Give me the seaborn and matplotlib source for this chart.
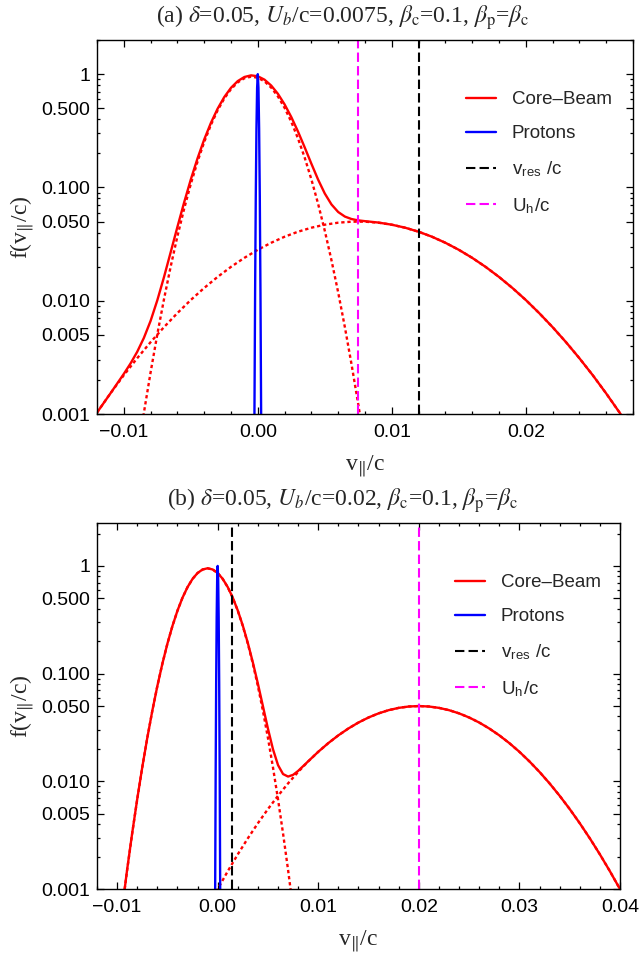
import matplotlib
matplotlib.use("Agg")
import matplotlib.pyplot as plt
import seaborn as sns
import pandas as pd
from matplotlib.ticker import FixedLocator, NullFormatter, LogLocator, MultipleLocator

# ---------------- data: panel (a) ----------------
total_xa = [-0.012, -0.011, -0.010, -0.0095, -0.009, -0.0085, -0.008, -0.0075, -0.007, -0.0065,
            -0.006, -0.0055, -0.005, -0.0045, -0.004, -0.0035, -0.003, -0.0025, -0.002, -0.0015,
            -0.001, -0.0005, 0.000, 0.0005, 0.001, 0.0015, 0.002, 0.0025, 0.003, 0.0035,
            0.004, 0.0045, 0.005, 0.0055, 0.006, 0.0065, 0.007, 0.0075, 0.008, 0.0085,
            0.009, 0.010, 0.011, 0.012, 0.013, 0.014, 0.015, 0.016, 0.017, 0.018,
            0.019, 0.020, 0.021, 0.022, 0.023, 0.024, 0.025, 0.026, 0.027, 0.028]
total_a = [0.00103, 0.00152, 0.00226, 0.00279, 0.00354, 0.00470, 0.00664, 0.01008, 0.01616, 0.02682,
           0.04475, 0.07352, 0.1174, 0.1801, 0.2647, 0.3709, 0.4948, 0.6280, 0.7574, 0.8677,
           0.9439, 0.9757, 0.9582, 0.8941, 0.7936, 0.6709, 0.5412, 0.4183, 0.3115, 0.2259,
           0.1619, 0.1174, 0.0884, 0.07075, 0.0607, 0.05533, 0.0526, 0.05122, 0.0504, 0.04969,
           0.0490, 0.04691, 0.04412, 0.04067, 0.03673, 0.03249, 0.02817, 0.02392, 0.01991, 0.01623,
           0.01297, 0.01016, 0.00778, 0.00585, 0.00431, 0.00311, 0.00220, 0.00152, 0.00103, 0.00069]
beam_xa = [-0.012, -0.011, -0.010, -0.009, -0.008, -0.007, -0.006, -0.005, -0.004, -0.003,
           -0.002, -0.001, 0.000, 0.001, 0.002, 0.003, 0.004, 0.005, 0.006, 0.007,
           0.008, 0.009, 0.010, 0.011, 0.012, 0.013, 0.014, 0.015, 0.016, 0.017,
           0.018, 0.019, 0.020, 0.021, 0.022, 0.023, 0.024, 0.025, 0.026, 0.027, 0.028]
beam_a = [0.00103, 0.00152, 0.00220, 0.00311, 0.00431, 0.00585, 0.00778, 0.01016, 0.01297, 0.01623,
          0.01991, 0.02392, 0.02817, 0.03249, 0.03673, 0.04067, 0.04412, 0.04691, 0.04887, 0.04987,
          0.04987, 0.04887, 0.04691, 0.04412, 0.04067, 0.03673, 0.03249, 0.02817, 0.02392, 0.01991,
          0.01623, 0.01297, 0.01016, 0.00778, 0.00585, 0.00431, 0.00311, 0.00220, 0.00152, 0.00103, 0.00069]
core_xa = [-0.0095, -0.009, -0.0085, -0.008, -0.0075, -0.007, -0.0065, -0.006, -0.0055, -0.005,
           -0.0045, -0.004, -0.0035, -0.003, -0.0025, -0.002, -0.0015, -0.001, -0.0005, 0.000,
           0.0005, 0.001, 0.0015, 0.002, 0.0025, 0.003, 0.0035, 0.004, 0.0045, 0.005,
           0.0055, 0.006, 0.0065, 0.007, 0.0075, 0.008, 0.0085]
core_a = [0.000169, 0.000428, 0.001026, 0.00233, 0.00504, 0.01031, 0.02005, 0.03697, 0.0646, 0.1072,
          0.1686, 0.2517, 0.3563, 0.4786, 0.610, 0.7375, 0.8458, 0.920, 0.9497, 0.930,
          0.8638, 0.7611, 0.6363, 0.5045, 0.3796, 0.2708, 0.1834, 0.1178, 0.0718, 0.0415,
          0.02275, 0.01184, 0.00584, 0.00273, 0.001215, 0.000512, 0.000204]

# ---------------- data: panel (b) ----------------
total_xb = [-0.012, -0.011, -0.010, -0.0095, -0.009, -0.0085, -0.008, -0.0075, -0.007, -0.0065,
            -0.006, -0.0055, -0.005, -0.0045, -0.004, -0.0035, -0.003, -0.0025, -0.002, -0.0015,
            -0.001, -0.0005, 0.000, 0.0005, 0.001, 0.0015, 0.002, 0.0025, 0.003, 0.0035,
            0.004, 0.0045, 0.005, 0.0055, 0.006, 0.0065, 0.007, 0.0075, 0.008, 0.009,
            0.010, 0.011, 0.012, 0.013, 0.014, 0.015, 0.016, 0.017, 0.018, 0.019,
            0.020, 0.021, 0.022, 0.023, 0.024, 0.025, 0.026, 0.027, 0.028, 0.029,
            0.030, 0.031, 0.032, 0.033, 0.034, 0.035, 0.036, 0.037, 0.038, 0.039, 0.040]
total_b = [0.000005, 0.000042, 0.000279, 0.000654, 0.00152, 0.00330, 0.00683, 0.01347, 0.02528, 0.04510,
           0.07656, 0.1235, 0.1895, 0.2765, 0.3837, 0.5063, 0.6350, 0.7576, 0.8592, 0.9268,
           0.9507, 0.9271, 0.8599, 0.7584, 0.6363, 0.5079, 0.3856, 0.2789, 0.1924, 0.1269,
           0.0806, 0.04982, 0.03077, 0.01983, 0.01415, 0.01168, 0.01107, 0.01149, 0.01249, 0.01534,
           0.01880, 0.02263, 0.02673, 0.03095, 0.03516, 0.03915, 0.04275, 0.04579, 0.04808, 0.04951,
           0.05000, 0.04951, 0.04808, 0.04579, 0.04275, 0.03915, 0.03516, 0.03095, 0.02673, 0.02263,
           0.01880, 0.01530, 0.01222, 0.009567, 0.007344, 0.00553, 0.004083, 0.002957, 0.00210, 0.001462, 0.000999]
beam_xb = [-0.001, 0.000, 0.001, 0.002, 0.003, 0.004, 0.005, 0.006, 0.007, 0.008,
           0.009, 0.010, 0.011, 0.012, 0.013, 0.014, 0.015, 0.016, 0.017, 0.018,
           0.019, 0.020, 0.021, 0.022, 0.023, 0.024, 0.025, 0.026, 0.027, 0.028,
           0.029, 0.030, 0.031, 0.032, 0.033, 0.034, 0.035, 0.036, 0.037, 0.038, 0.039, 0.040]
beam_b = [0.000668, 0.000999, 0.001462, 0.00210, 0.002957, 0.004083, 0.00553, 0.007344, 0.009567, 0.01222,
          0.01530, 0.01880, 0.02263, 0.02673, 0.03095, 0.03516, 0.03915, 0.04275, 0.04579, 0.04808,
          0.04951, 0.05000, 0.04951, 0.04808, 0.04579, 0.04275, 0.03915, 0.03516, 0.03095, 0.02673,
          0.02263, 0.01880, 0.01530, 0.01222, 0.009567, 0.007344, 0.00553, 0.004083, 0.002957, 0.00210,
          0.001462, 0.000999]
core_xb = [-0.010, -0.0095, -0.009, -0.0085, -0.008, -0.0075, -0.007, -0.0065, -0.006, -0.0055,
           -0.005, -0.0045, -0.004, -0.0035, -0.003, -0.0025, -0.002, -0.0015, -0.001, -0.0005,
           0.000, 0.0005, 0.001, 0.0015, 0.002, 0.0025, 0.003, 0.0035, 0.004, 0.0045,
           0.005, 0.0055, 0.006, 0.0065, 0.007, 0.0075, 0.008]
core_b = [0.000271, 0.000654, 0.001503, 0.003279, 0.00681, 0.01344, 0.02524, 0.04505, 0.0765, 0.1234,
          0.1894, 0.2764, 0.3835, 0.5061, 0.6348, 0.7572, 0.8589, 0.9263, 0.95, 0.9263,
          0.8589, 0.7572, 0.6348, 0.5061, 0.3835, 0.2764, 0.1894, 0.1234, 0.0765, 0.04505,
          0.02524, 0.01344, 0.00681, 0.003279, 0.001503, 0.000654, 0.000271]

# ---------------- protons (same in both panels) ----------------
xp = [-0.0003, -0.00025, -0.0002, -0.00015, -0.0001, -0.00005, 0.0,
      0.00005, 0.0001, 0.00015, 0.0002, 0.00025, 0.0003]
protons = [0.000047, 0.00098, 0.0119, 0.0827, 0.330, 0.758, 1.0,
           0.758, 0.330, 0.0827, 0.0119, 0.00098, 0.000047]

# vertical markers
v_res = [0.012, 0.0014]
u_h = [0.0075, 0.02]

titles = [r"(a) $\delta$=0.05, $U_b$/c=0.0075, $\beta_{\mathrm{c}}$=0.1, $\beta_{\mathrm{p}}$=$\beta_{\mathrm{c}}$",
          r"(b) $\delta$=0.05, $U_b$/c=0.02, $\beta_{\mathrm{c}}$=0.1, $\beta_{\mathrm{p}}$=$\beta_{\mathrm{c}}$"]
xticks_a = [-0.01, 0.0, 0.01, 0.02]
xticklabels_a = ["\u22120.01", "0.00", "0.01", "0.02"]
xticks_b = [-0.01, 0.0, 0.01, 0.02, 0.03, 0.04]
xticklabels_b = ["\u22120.01", "0.00", "0.01", "0.02", "0.03", "0.04"]
yticks = [0.001, 0.005, 0.01, 0.05, 0.1, 0.5, 1]
yticklabels = ["0.001", "0.005", "0.010", "0.050", "0.100", "0.500", "1"]
legend_labels = ["Core\u2013Beam", "Protons", r"v$_{\mathregular{res}}$ /c", r"U$_{\mathregular{h}}$/c"]

# ---------------- style ----------------
sns.set_theme(style="white")
plt.rcParams['font.family'] = ['Liberation Sans', 'DejaVu Sans']
plt.rcParams['mathtext.fontset'] = 'stix'
SERIF = ['Liberation Serif', 'DejaVu Serif']

fig = plt.figure(figsize=(6.41, 9.58), dpi=100)
axa = fig.add_axes([0.1513, 0.5678, 0.8362, 0.3904])
axb = fig.add_axes([0.1513, 0.0720, 0.8159, 0.3820])

RED, BLUE, MAG = "#ff0000", "#0000ff", "#ff00ff"
LW = 1.7

def draw(ax, tx, tot, cx, core, bx, beam, vres, uh, xlim, ylim, xt, xtl, leg_anchor):
    df_tot = pd.DataFrame({"x": tx, "y": tot})
    df_core = pd.DataFrame({"x": cx, "y": core})
    df_beam = pd.DataFrame({"x": bx, "y": beam})
    df_p = pd.DataFrame({"x": xp, "y": protons})
    sns.lineplot(data=df_core, x="x", y="y", ax=ax, color=RED, lw=LW, estimator=None, sort=False)
    sns.lineplot(data=df_beam, x="x", y="y", ax=ax, color=RED, lw=LW, estimator=None, sort=False)
    for ln in ax.get_lines():
        ln.set_dashes((1.4, 1.2))
    sns.lineplot(data=df_tot, x="x", y="y", ax=ax, color=RED, lw=LW, estimator=None, sort=False,
                 label=legend_labels[0])
    sns.lineplot(data=df_p, x="x", y="y", ax=ax, color=BLUE, lw=LW, estimator=None, sort=False,
                 label=legend_labels[1])
    ax.axvline(vres, color="black", lw=1.5, dashes=(4.5, 2.0), label=legend_labels[2])
    ax.axvline(uh, color=MAG, lw=1.5, dashes=(4.5, 2.0), label=legend_labels[3])
    ax.set_yscale("log")
    ax.set_xlim(*xlim)
    ax.set_ylim(*ylim)
    ax.yaxis.set_major_locator(FixedLocator(yticks))
    ax.set_yticklabels(yticklabels)
    ax.yaxis.set_minor_locator(LogLocator(base=10, subs=[2, 3, 4, 6, 7, 8, 9], numticks=20))
    ax.yaxis.set_minor_formatter(NullFormatter())
    ax.xaxis.set_major_locator(FixedLocator(xt))
    ax.set_xticklabels(xtl)
    ax.xaxis.set_minor_locator(MultipleLocator(0.002))
    ax.tick_params(which="both", direction="in", top=True, right=True, left=True, bottom=True,
                   labelsize=14, colors="black", width=0.9)
    ax.tick_params(which="major", length=5)
    ax.tick_params(which="minor", length=2.5)
    ax.tick_params(axis="x", which="major", pad=7)
    ax.tick_params(axis="y", which="major", pad=5)
    for s in ax.spines.values():
        s.set_color("black")
        s.set_linewidth(1.0)
    ax.set_xlabel(r"v$_{\Vert}$/c", family=SERIF, fontsize=17, labelpad=9)
    ax.set_ylabel(r"f(v$_{\Vert}$/c)", family=SERIF, fontsize=17, labelpad=4)
    ax.legend(loc="upper left", bbox_to_anchor=leg_anchor, frameon=False, fontsize=13.5,
              handlelength=1.6, handletextpad=0.85, labelspacing=0.9, borderaxespad=0, borderpad=0)

draw(axa, total_xa, total_a, core_xa, core_a, beam_xa, beam_a, v_res[0], u_h[0],
     (-0.012, 0.028), (0.001, 2.0), xticks_a, xticklabels_a, (0.688, 0.863))
draw(axb, total_xb, total_b, core_xb, core_b, beam_xb, beam_b, v_res[1], u_h[1],
     (-0.012, 0.04), (0.001, 2.5), xticks_b, xticklabels_b, (0.6845, 0.860))

fig.text(0.534, 1 - 18 / 958, titles[0], family=SERIF, fontsize=17, ha="center", va="center")
fig.text(0.534, 1 - 501 / 958, titles[1], family=SERIF, fontsize=17, ha="center", va="center")

fig.savefig("out.png", dpi=100)
